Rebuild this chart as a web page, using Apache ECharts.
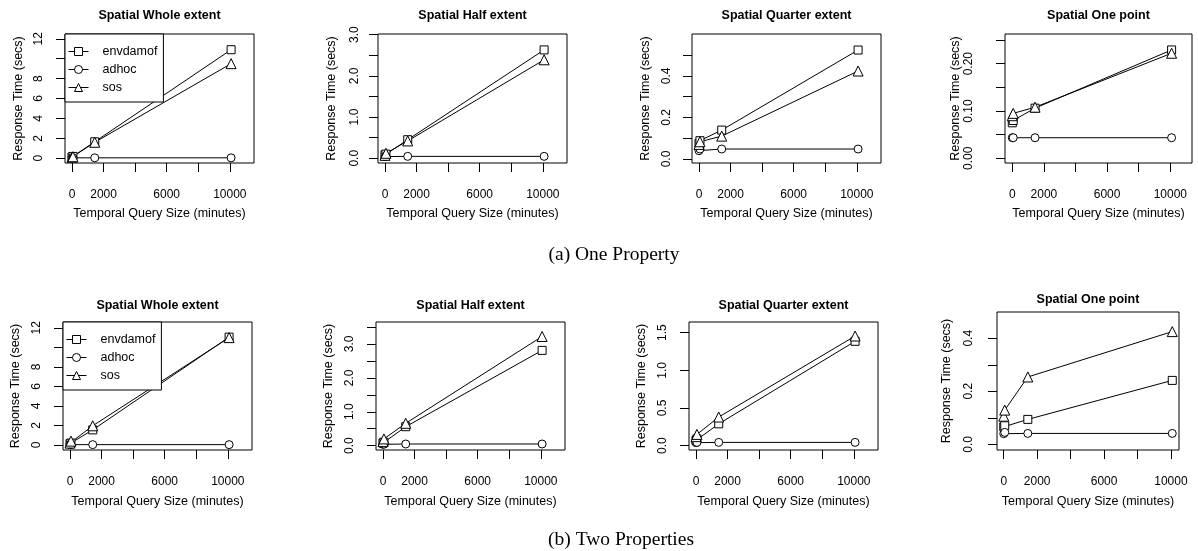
<!DOCTYPE html>
<html><head><meta charset="utf-8">
<script src="https://cdn.jsdelivr.net/npm/echarts@6/dist/echarts.min.js"></script>
<style>html,body{margin:0;padding:0;background:#fff}#c{width:1198px;height:551px}</style>
</head><body><div id="c"></div>
<script>
// ---------- data ----------
const minutes = [1, 60, 1440, 10080];
const seriesNames = ['envdamof', 'adhoc', 'sos'];
const panelTitles = ['Spatial Whole extent', 'Spatial Half extent', 'Spatial Quarter extent', 'Spatial One point',
                     'Spatial Whole extent', 'Spatial Half extent', 'Spatial Quarter extent', 'Spatial One point'];
const captions = ['(a) One Property', '(b) Two Properties'];
const xTitle = 'Temporal Query Size (minutes)';
const yTitle = 'Response Time (secs)';

// (a) One Property
const oneWhole_envdamof = [0.12, 0.18, 1.65, 10.9];
const oneWhole_adhoc    = [0.04, 0.04, 0.04, 0.04];
const oneWhole_sos      = [0.10, 0.15, 1.60, 9.5];
const oneHalf_envdamof  = [0.08, 0.10, 0.45, 2.63];
const oneHalf_adhoc     = [0.04, 0.045, 0.045, 0.045];
const oneHalf_sos       = [0.07, 0.12, 0.42, 2.39];
const oneQuarter_envdamof = [0.075, 0.088, 0.139, 0.524];
const oneQuarter_adhoc    = [0.04, 0.048, 0.048, 0.048];
const oneQuarter_sos      = [0.07, 0.083, 0.11, 0.423];
const onePoint_envdamof = [0.075, 0.08, 0.106, 0.229];
const onePoint_adhoc    = [0.0435, 0.0435, 0.0435, 0.0435];
const onePoint_sos      = [0.09, 0.095, 0.108, 0.222];
// (b) Two Properties
const twoWhole_envdamof = [0.15, 0.2, 1.55, 11.05];
const twoWhole_adhoc    = [0.04, 0.04, 0.04, 0.04];
const twoWhole_sos      = [0.2, 0.4, 1.97, 11.0];
const twoHalf_envdamof  = [0.08, 0.10, 0.56, 2.81];
const twoHalf_adhoc     = [0.04, 0.045, 0.05, 0.05];
const twoHalf_sos       = [0.12, 0.2, 0.66, 3.22];
const twoQuarter_envdamof = [0.07, 0.09, 0.29, 1.385];
const twoQuarter_adhoc    = [0.04, 0.044, 0.044, 0.044];
const twoQuarter_sos      = [0.12, 0.15, 0.38, 1.455];
const twoPoint_envdamof = [0.066, 0.07, 0.094, 0.241];
const twoPoint_adhoc    = [0.04, 0.045, 0.041, 0.041];
const twoPoint_sos      = [0.106, 0.129, 0.254, 0.425];

// ticks
const xTickValues  = [0, 2000, 4000, 6000, 8000, 10000];
const xLabelValues = [0, 2000, 6000, 10000];
const yTickValues = [
  [0, 2, 4, 6, 8, 10, 12],
  [0, 0.5, 1, 1.5, 2, 2.5, 3],
  [0, 0.1, 0.2, 0.3, 0.4, 0.5],
  [0, 0.05, 0.1, 0.15, 0.2, 0.25],
  [0, 2, 4, 6, 8, 10, 12],
  [0, 0.5, 1, 1.5, 2, 2.5, 3, 3.5],
  [0, 0.5, 1, 1.5],
  [0, 0.1, 0.2, 0.3, 0.4]
];
const yLabelValues = [
  [0, 2, 4, 6, 8, 12],
  [0, 1, 2, 3],
  [0, 0.2, 0.4],
  [0, 0.1, 0.2],
  [0, 2, 4, 6, 8, 12],
  [0, 1, 2, 3],
  [0, 0.5, 1, 1.5],
  [0, 0.2, 0.4]
];

const panelData = [
  [oneWhole_envdamof, oneWhole_adhoc, oneWhole_sos],
  [oneHalf_envdamof, oneHalf_adhoc, oneHalf_sos],
  [oneQuarter_envdamof, oneQuarter_adhoc, oneQuarter_sos],
  [onePoint_envdamof, onePoint_adhoc, onePoint_sos],
  [twoWhole_envdamof, twoWhole_adhoc, twoWhole_sos],
  [twoHalf_envdamof, twoHalf_adhoc, twoHalf_sos],
  [twoQuarter_envdamof, twoQuarter_adhoc, twoQuarter_sos],
  [twoPoint_envdamof, twoPoint_adhoc, twoPoint_sos]
];

// ---------- layout / style ----------
const layout = [
  {l: 65,  t: 34,  w: 189, h: 129, xMin: -443, xMax: 11531, yMin: -0.48,   yMax: 12.48, dec: 0, ylm: 20, yng: 40, xlm: 26, xng: 44, ty: 16},
  {l: 378, t: 34,  w: 189, h: 129, xMin: -443, xMax: 11531, yMin: -0.116,  yMax: 3.016, dec: 1, ylm: 17, yng: 40, xlm: 26, xng: 44, ty: 16},
  {l: 692, t: 34,  w: 189, h: 129, xMin: -443, xMax: 11531, yMin: -0.0192, yMax: 0.601, dec: 1, ylm: 19, yng: 40, xlm: 26, xng: 44, ty: 16},
  {l: 1005,t: 34,  w: 187, h: 129, xMin: -460, xMax: 11370, yMin: -0.0099, yMax: 0.2627,dec: 2, ylm: 30, yng: 42, xlm: 26, xng: 44, ty: 16},
  {l: 63,  t: 322, w: 189, h: 128, xMin: -443, xMax: 11531, yMin: -0.51,   yMax: 12.6,  dec: 0, ylm: 20, yng: 41, xlm: 26, xng: 45.5, ty: 306},
  {l: 376, t: 322, w: 189, h: 128, xMin: -443, xMax: 11531, yMin: -0.127,  yMax: 3.647, dec: 1, ylm: 20, yng: 41, xlm: 26, xng: 45.5, ty: 306},
  {l: 689, t: 322, w: 189, h: 128, xMin: -443, xMax: 11531, yMin: -0.057,  yMax: 1.641, dec: 1, ylm: 20, yng: 41, xlm: 26, xng: 45.5, ty: 306},
  {l: 997, t: 312, w: 182, h: 138, xMin: -403, xMax: 10483, yMin: -0.0215, yMax: 0.499, dec: 1, ylm: 22, yng: 44, xlm: 26, xng: 45.5, ty: 300}
];
const symbols = ['rect', 'circle', 'triangle'];
const symbolSizes = [8, 8, 10];
const font = "'Liberation Sans', Arial, Helvetica, sans-serif";
const serif = "'Liberation Serif', 'Times New Roman', serif";

const grids = [], xAxes = [], yAxes = [], series = [], graphics = [];
panelData.forEach((vals, i) => {
  const L = layout[i];
  grids.push({left: L.l, top: L.t, width: L.w, height: L.h, show: true,
    borderColor: '#000', borderWidth: 1, backgroundColor: 'transparent', containLabel: false});
  xAxes.push({type: 'value', gridIndex: i, min: L.xMin, max: L.xMax, position: 'bottom',
    axisLine: {show: false, onZero: false}, splitLine: {show: false},
    axisTick: {show: true, inside: false, length: 9, customValues: xTickValues, lineStyle: {color: '#000', width: 1}},
    axisLabel: {customValues: xLabelValues, margin: L.xlm, color: '#000', fontSize: 12, fontFamily: font,
      formatter: v => String(v)},
    name: xTitle, nameLocation: 'middle', nameGap: L.xng,
    nameTextStyle: {color: '#000', fontSize: 12.5, fontFamily: font}});
  yAxes.push({type: 'value', gridIndex: i, min: L.yMin, max: L.yMax, position: 'left',
    axisLine: {show: false, onZero: false}, splitLine: {show: false},
    axisTick: {show: true, inside: false, length: 9, customValues: yTickValues[i], lineStyle: {color: '#000', width: 1}},
    axisLabel: {customValues: yLabelValues[i], rotate: 90, margin: L.ylm, color: '#000', fontSize: 12, fontFamily: font,
      formatter: v => Number(v).toFixed(L.dec)},
    name: yTitle, nameLocation: 'middle', nameRotate: 90, nameGap: L.yng,
    nameTextStyle: {color: '#000', fontSize: 12.5, fontFamily: font}});
  seriesNames.forEach((nm, k) => {
    series.push({type: 'line', name: nm, xAxisIndex: i, yAxisIndex: i,
      data: minutes.map((m, j) => [m, vals[k][j]]),
      symbol: symbols[k], symbolSize: symbolSizes[k], showSymbol: true,
      lineStyle: {color: '#000', width: 1},
      itemStyle: {color: '#fff', borderColor: '#000', borderWidth: 1},
      emphasis: {disabled: true}, silent: true, animation: false});
  });
  graphics.push({type: 'text', x: L.l + L.w / 2, y: L.ty,
    style: {text: panelTitles[i], font: 'bold 12.5px ' + font, fill: '#000',
      textAlign: 'center', textVerticalAlign: 'middle'}});
});
graphics.push({type: 'text', x: 614, y: 255,
  style: {text: captions[0], font: '19.5px ' + serif, fill: '#000', textAlign: 'center', textVerticalAlign: 'middle'}});
graphics.push({type: 'text', x: 621, y: 540,
  style: {text: captions[1], font: '19.5px ' + serif, fill: '#000', textAlign: 'center', textVerticalAlign: 'middle'}});

const legendBase = {orient: 'vertical', data: seriesNames, itemWidth: 20, itemHeight: 10, itemGap: 5,
  padding: [11, 6, 8, 3], borderColor: '#000', borderWidth: 1, borderRadius: 0, backgroundColor: '#fff',
  align: 'left', selectedMode: false,
  itemStyle: {color: '#fff', borderColor: '#000', borderWidth: 1},
  lineStyle: {color: '#000', width: 1},
  formatter: n => '{a|' + n + '}',
  textStyle: {color: '#000', fontSize: 12.5, fontFamily: font,
    rich: {a: {padding: [0, 0, 0, 9], fontSize: 12.5, fontFamily: font, color: '#000'}}}};
const legends = [
  Object.assign({}, legendBase, {left: layout[0].l, top: layout[0].t}),
  Object.assign({}, legendBase, {left: layout[4].l, top: layout[4].t})
];

const chart = echarts.init(document.getElementById('c'), null, {renderer: 'canvas'});
chart.setOption({
  animation: false,
  backgroundColor: '#fff',
  grid: grids, xAxis: xAxes, yAxis: yAxes, series: series,
  legend: legends, graphic: graphics
});
</script></body></html>
